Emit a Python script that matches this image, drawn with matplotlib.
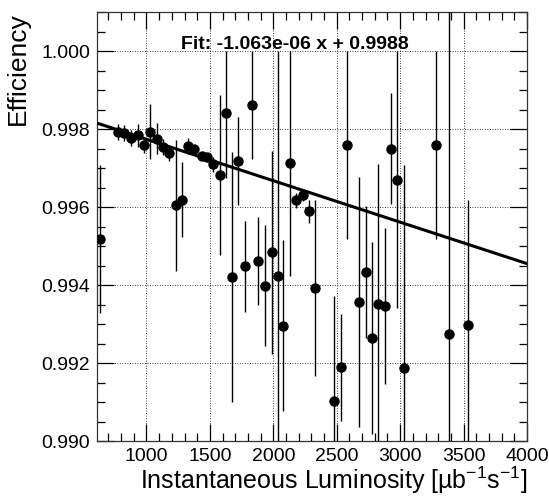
import numpy as np
import matplotlib
matplotlib.use('Agg')
import matplotlib.pyplot as plt
from matplotlib.ticker import MultipleLocator, FormatStrFormatter

plt.rcParams['font.family'] = ['Liberation Sans', 'DejaVu Sans']
plt.rcParams['mathtext.default'] = 'regular'

# Efficiency vs instantaneous luminosity
lumi = [634, 778, 825, 878, 931, 981, 1030, 1081, 1128, 1180,
        1231, 1280, 1325, 1377, 1436, 1475, 1527, 1580, 1628, 1677,
        1725, 1777, 1835, 1882, 1935, 1988, 2035, 2080, 2133, 2180,
        2233, 2282, 2330, 2480, 2533, 2580, 2679, 2732, 2777, 2829,
        2882, 2929, 2979, 3032, 3284, 3387, 3534]
eff = [0.99518, 0.99793, 0.99789, 0.99777, 0.99784, 0.99759, 0.99793, 0.99775, 0.99754, 0.99739,
       0.99604, 0.99619, 0.99756, 0.99750, 0.99730, 0.99728, 0.99709, 0.99681, 0.99840, 0.99420,
       0.99717, 0.99448, 0.99862, 0.99462, 0.99398, 0.99484, 0.99422, 0.99296, 0.99712, 0.99617,
       0.99630, 0.99589, 0.99393, 0.99103, 0.99189, 0.99758, 0.99356, 0.99433, 0.99264, 0.99351,
       0.99345, 0.99750, 0.99670, 0.99187, 0.99758, 0.99275, 0.99298]
err = [0.0019, 0.0002, 0.0002, 0.0002, 0.0003, 0.0002, 0.0007, 0.0004, 0.0002, 0.0002,
       0.00167, 0.00097, 0.0002, 0.0001, 0.0001, 0.0001, 0.0002, 0.00205, 0.00165, 0.0032,
       0.00113, 0.00116, 0.0014, 0.00112, 0.00155, 0.0026, 0.0058, 0.0022, 0.0029, 0.0002,
       0.00015, 0.0003, 0.00226, 0.0027, 0.00137, 0.0024, 0.0032, 0.00169, 0.00246, 0.0036,
       0.002, 0.00143, 0.0033, 0.0052, 0.0024, 0.009, 0.0032]
# points whose upper error stops at 1.000
capped = [18, 22, 26, 28, 35, 42, 44]

fit_slope = -1.063e-06
fit_const = 0.9988

lumi = np.array(lumi)
eff = np.array(eff)
err = np.array(err)
err_hi = err.copy()
for i in capped:
    err_hi[i] = 1.0 - eff[i]

xmin, xmax = 610, 4000
ymin, ymax = 0.990, 1.001

fig = plt.figure(figsize=(5.49, 5.01), dpi=100)
ax = fig.add_axes([97/549, 1 - 441/501, 430/549, 429/501])

ax.grid(True, color='black', linestyle=(0, (1, 2)), linewidth=0.6)
ax.set_axisbelow(True)

ax.errorbar(lumi, eff, yerr=[err, err_hi], fmt='o', color='black',
            markersize=6.5, elinewidth=1.0, capsize=0, zorder=3)

xf = np.linspace(xmin, xmax, 50)
ax.plot(xf, fit_slope * xf + fit_const, color='black', linewidth=2.2, zorder=4)

ax.text(0.46, 0.925, 'Fit: %.3e x + %.4f' % (fit_slope, fit_const),
        transform=ax.transAxes, ha='center', va='center',
        fontsize=14, fontweight='bold', zorder=5)

ax.set_xlim(xmin, xmax)
ax.set_ylim(ymin, ymax)
ax.xaxis.set_major_locator(MultipleLocator(500))
ax.xaxis.set_minor_locator(MultipleLocator(100))
ax.yaxis.set_major_locator(MultipleLocator(0.002))
ax.yaxis.set_minor_locator(MultipleLocator(0.0005))
ax.yaxis.set_major_formatter(FormatStrFormatter('%.3f'))

ax.tick_params(which='both', direction='in', top=True, right=True,
               labelsize=14, colors='black')
ax.tick_params(which='major', length=12, width=0.9, pad=5)
ax.tick_params(which='minor', length=6, width=0.9)
for s in ax.spines.values():
    s.set_linewidth(0.9)
    s.set_color('#333333')

ax.set_xlabel('Instantaneous Luminosity [µb$^{-1}$s$^{-1}$]', fontsize=18,
              loc='right', labelpad=0)
ax.set_ylabel('Efficiency', fontsize=19, loc='top', labelpad=8)

fig.savefig('out.png', dpi=100)
